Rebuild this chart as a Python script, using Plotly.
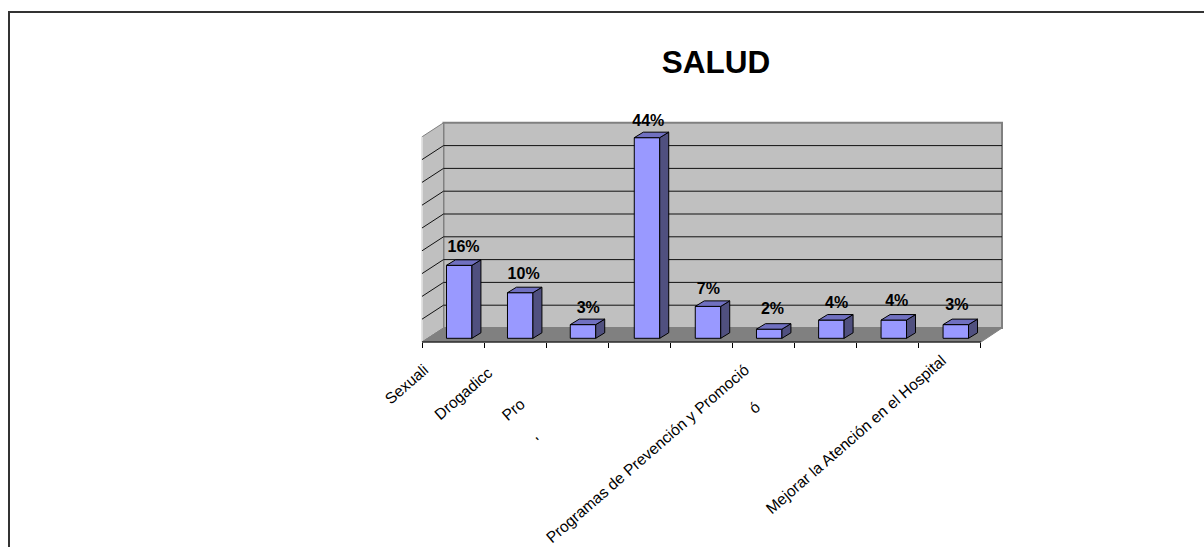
import plotly.graph_objects as go

# ---- data ----
categories = ["Sexualidad", "Drogadicción", "Prostitución", "Alcoholismo", "Embarazo",
              "Programas de Prevención y Promoción", "Nutrición", "Vacunación",
              "Mejorar la Atención en el Hospital"]
values = [16, 10, 3, 44, 7, 2, 4, 4, 3]
title_text = "SALUD"
grid_values = [0, 5, 10, 15, 20, 25, 30, 35, 40, 45]
# the visible pieces of the axis labels, which the reference cuts off
visible_labels = ["Sexuali", "Drogadicc", "Pro", "'", "", "Programas de Prevención y Promoció", "ó", "", "Mejorar la Atención en el Hospital"]
label_dx = [-53, -58, -70, -106, 0, -122, -77, 0, -100]
label_dy = [46, 55, 71, 103, 0, 115, 69, 0, 96.5]
value_dx = [4.5, 2.5, 5, 3, 1, 3, 5, 3, 1]
value_dy = [17.8, 18.1, 15.8, 15.8, 16.2, 19.5, 16.2, 17.8, 18.5]
bar_dx = [0.2, -0.9, -0.2, 1.7, 0.6, -0.3, -0.25, 0.1, 0]

# ---- geometry (pixels of a 1204x547 page) ----
W, H = 1204, 547
PX_X0, PX_STEP = 459.0, 62.1     # first bar centre, category step
PX_Y0, PX_UNIT = 338.3, 4.56     # bar base, pixels per percentage point
BAR_W = 0.41

def ux(px):
    return px / PX_STEP
def uy(px):
    return px / PX_UNIT

x_range = [-PX_X0 / PX_STEP, (W - PX_X0) / PX_STEP]
y_range = [-(H - PX_Y0) / PX_UNIT, PX_Y0 / PX_UNIT]

BACK_L, BACK_R = (443.5 - PX_X0) / PX_STEP, (1002 - PX_X0) / PX_STEP
FRONT_L, FRONT_R = (422 - PX_X0) / PX_STEP, (981 - PX_X0) / PX_STEP
BACK_DY, FRONT_DY = uy(PX_Y0 - 328), -uy(342 - PX_Y0)
SIDE_DX, SIDE_DY = ux(9), uy(5.5)

WALL = "#C0C0C0"
EDGE = "#808080"
GRID = "#111111"
FLOOR = "#808080"
BAR = "#9999FF"
BAR_SIDE = "#50507F"
BAR_TOP = "#7070C0"

fig = go.Figure()
shapes = []

def path_shape(xs, ys, fill=None, line=None, lw=1):
    d = "M " + " L ".join(f"{a},{b}" for a, b in zip(xs, ys))
    if fill:
        d += " Z"
    shapes.append(dict(type="path", xref="x", yref="y", layer="below", path=d,
                       fillcolor=fill or "rgba(0,0,0,0)",
                       line=dict(color=line or fill, width=lw)))

def poly(xs, ys, fill, line=None, lw=1):
    fig.add_trace(go.Scatter(x=xs, y=ys, mode="lines", fill="toself", fillcolor=fill,
                             line=dict(color=line or fill, width=lw), hoverinfo="skip", showlegend=False))

top = grid_values[-1]
# back wall
path_shape([BACK_L, BACK_R, BACK_R, BACK_L],
           [BACK_DY, BACK_DY, top + BACK_DY, top + BACK_DY], WALL, EDGE, 2)
# left wall
path_shape([FRONT_L, BACK_L, BACK_L, FRONT_L],
           [FRONT_DY, BACK_DY, top + BACK_DY, top + FRONT_DY], WALL, EDGE, 1)
path_shape([FRONT_L, FRONT_L], [FRONT_DY, top + FRONT_DY], None, "#f0f0f0", 1.5)
# grid lines, wrapping round the left wall
for g in grid_values[1:-1]:
    path_shape([FRONT_L, BACK_L, BACK_R], [g + FRONT_DY, g + BACK_DY, g + BACK_DY], None, GRID, 1)
# floor
path_shape([FRONT_L, FRONT_R, BACK_R, BACK_L],
           [FRONT_DY, FRONT_DY, BACK_DY, BACK_DY], FLOOR, FLOOR, 1)
path_shape([FRONT_L, FRONT_R], [FRONT_DY, FRONT_DY], None, "black", 1)

bar_x = [i + ux(d) for i, d in enumerate(bar_dx)]

# depth faces of the bars
for x, v in zip(bar_x, values):
    r = x + BAR_W / 2
    l = x - BAR_W / 2
    poly([r, r + SIDE_DX, r + SIDE_DX, r, r], [0, SIDE_DY, v + SIDE_DY, v, 0], BAR_SIDE, "black", 1)
    poly([l, r, r + SIDE_DX, l + SIDE_DX, l], [v, v, v + SIDE_DY, v + SIDE_DY, v], BAR_TOP, "black", 1)

# front faces
fig.add_trace(go.Bar(x=bar_x, y=values, width=BAR_W,
                     marker=dict(color=BAR, line=dict(color="black", width=1)),
                     hoverinfo="skip", showlegend=False))

# value labels
fig.add_trace(go.Scatter(x=[i + ux(d) for i, d in enumerate(value_dx)],
                         y=[v + uy(d) for v, d in zip(values, value_dy)],
                         mode="text", text=[f"{v}%" for v in values], textposition="middle center",
                         textfont=dict(family="Liberation Sans", size=16, color="black", weight="bold"),
                         hoverinfo="skip", showlegend=False))

# axis tick marks fall on the category boundaries
ticks = [(422 - PX_X0) / PX_STEP + k for k in range(len(values) + 1)]

annotations = []
for i, t in enumerate(visible_labels):
    if not t:
        continue
    annotations.append(dict(x=i, y=0, xref="x", yref="y", text=t, showarrow=False, textangle=-41,
                            xshift=label_dx[i], yshift=-label_dy[i],
                            font=dict(family="Liberation Sans", size=15.6, color="black")))

shapes.append(dict(type="path", xref="paper", yref="paper", layer="above",
                   path=f"M {9/W} 0 L {9/W} {1-12/H} L 1 {1-12/H}",
                   line=dict(color="#333333", width=2)))

fig.update_layout(
    width=W, height=H, margin=dict(l=0, r=0, t=0, b=0),
    paper_bgcolor="white", plot_bgcolor="rgba(0,0,0,0)", showlegend=False, barmode="overlay",
    title=dict(text=f"<b>{title_text}</b>", x=716 / W, y=1 - 62 / H, xanchor="center", yanchor="middle",
               font=dict(family="Liberation Sans", size=31.5, color="black")),
    xaxis=dict(range=x_range, domain=[0, 1], showgrid=False, zeroline=False, showline=False,
               tickmode="array", tickvals=ticks, ticktext=[""] * len(ticks), ticks="outside", ticklen=5,
               tickcolor="black", tickwidth=1, anchor="free", position=(H - 342) / H, showticklabels=False),
    yaxis=dict(range=y_range, domain=[0, 1], visible=False),
    annotations=annotations,
    shapes=shapes,
)
fig.write_html("out.html", post_script="document.body.style.margin='0';", config={"displayModeBar": False})
